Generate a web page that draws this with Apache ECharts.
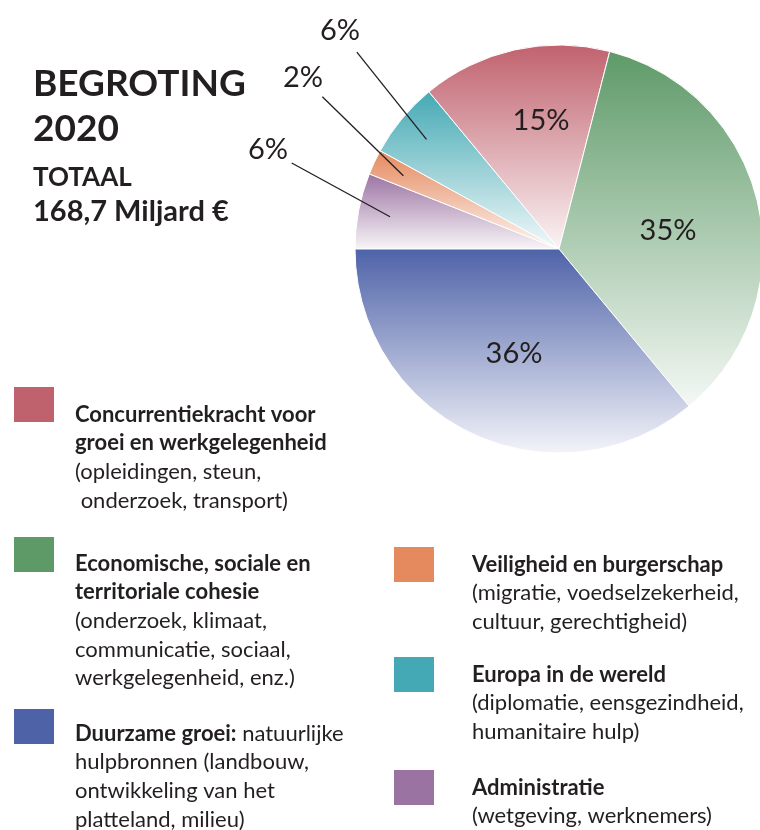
<!DOCTYPE html>
<html>
<head>
<meta charset="utf-8">
<title>Begroting 2020</title>
<script src="https://cdn.jsdelivr.net/npm/echarts@6/dist/echarts.min.js"></script>
<style>
  html, body { margin: 0; padding: 0; background: #fff; }
  #budget_pie_chart { width: 760px; height: 830px; }
</style>
</head>
<body>
<div id="budget_pie_chart"></div>
<script>
// categories, clockwise from 9 o'clock
const categories = ['Administratie', 'Veiligheid en burgerschap', 'Europa in de wereld',
  'Concurrentiekracht', 'Cohesie', 'Duurzame groei'];
const shares = [6, 2, 6, 15, 35, 36]; // %
const colors = ['#9B73A2', '#E5895E', '#44A9B4', '#C0626E', '#5E9A68', '#4E62A8'];

// legend texts, one entry per category
const legendLines = [
  ['{b|Administratie}', '{n|(wetgeving, werknemers)}'],
  ['{b|Veiligheid en burgerschap}', '{n|(migratie, voedselzekerheid,}', '{n|cultuur, gerechtigheid)}'],
  ['{b|Europa in de wereld}', '{n|(diplomatie, eensgezindheid,}', '{n|humanitaire hulp)}'],
  ['{b|Concurrentiekracht voor}', '{b|groei en werkgelegenheid}', '{n|(opleidingen, steun,}', '{n| onderzoek, transport)}'],
  ['{b|Economische, sociale en}', '{b|territoriale cohesie}', '{n|(onderzoek, klimaat,}', '{n|communicatie, sociaal,}', '{n|werkgelegenheid, enz.)}'],
  ['{b|Duurzame groei:}{n| natuurlijke}', '{n|hulpbronnen (landbouw,}', '{n|ontwikkeling van het}', '{n|platteland, milieu)}']
];

// layout (pixels): pie, label centres, legend icon placement
const CX = 559, CY = 249, R = 204, START = 180;
const labelPos = [[268, 150], [303, 78], [340, 31], [541, 121], [668, 231], [514, 354]];
const legendPos = [ // [iconLeft, iconTop, textIndent, firstLineOffset]
  [394, 770, 33, 0],
  [394, 547, 33, 0],
  [394, 657, 33, 0],
  [14, 387, 16, 10],
  [14, 537, 16, 9],
  [14, 709, 16, 7]
];

const FONT = 'Lato';
const TEXT = '#231f20';
const LH = 28.7;
const ICON_W = 40, ICON_H = 35;

const chart = echarts.init(document.getElementById('budget_pie_chart'));

function tint(hex, k) {
  const n = parseInt(hex.slice(1), 16);
  const r = n >> 16, g = (n >> 8) & 255, b = n & 255;
  const f = v => Math.round(v + (255 - v) * k);
  return 'rgb(' + f(r) + ',' + f(g) + ',' + f(b) + ')';
}

// point inside slice i, at its middle angle, `depth` px in from the rim
function slicePoint(i, depth) {
  const total = shares.reduce((s, v) => s + v, 0);
  let cum = 0;
  for (let j = 0; j < i; j++) cum += shares[j];
  const a = (START - 360 * (cum + shares[i] / 2) / total) * Math.PI / 180;
  return [CX + Math.cos(a) * (R - depth), CY - Math.sin(a) * (R - depth)];
}

const isSmall = i => shares[i] < 10;

// coloured slices, inside labels for the big ones
const pieData = categories.map((name, i) => ({
  name: name,
  value: shares[i],
  itemStyle: {
    color: new echarts.graphic.LinearGradient(0, 0, 0, 1, [
      { offset: 0, color: colors[i] },
      { offset: 1, color: tint(colors[i], 0.93) }
    ])
  },
  label: { show: !isSmall(i) }
}));

// transparent copy on top, only for outside labels + leader lines
const overlayData = categories.map((name, i) => ({
  name: name,
  value: shares[i],
  label: { show: isSmall(i) },
  labelLine: { show: isSmall(i) }
}));

const legends = categories.map((name, i) => {
  const [left, iconTop, indent, d] = legendPos[i];
  const n = legendLines[i].length;
  const iconMid = iconTop + ICON_H / 2;
  const padTop = 2 * d + (n - 1) * LH;
  const boxTop = iconMid - (n * LH + padTop) / 2;
  return {
    data: [{ name: name, itemStyle: { color: colors[i] } }],
    left: left,
    top: Math.min(boxTop, iconTop),
    padding: 0,
    orient: 'vertical',
    icon: 'rect',
    itemWidth: ICON_W,
    itemHeight: ICON_H,
    selectedMode: false,
    itemStyle: { borderWidth: 0 },
    formatter: () => legendLines[i].join('\n'),
    textStyle: {
      fontFamily: FONT,
      lineHeight: LH,
      padding: [padTop, 0, 0, indent],
      backgroundColor: 'rgba(255,255,255,0)',
      rich: {
        b: { fontFamily: FONT, fontSize: 22, fontWeight: 'bold', color: TEXT, lineHeight: LH },
        n: { fontFamily: FONT, fontSize: 22, color: TEXT, lineHeight: LH }
      }
    }
  };
});

const pctLabel = {
  formatter: '{c}%',
  fontFamily: FONT,
  fontSize: 29,
  color: TEXT
};

const placeLabel = function (p) {
  const i = p.dataIndex;
  const pos = labelPos[i];
  const out = { x: pos[0], y: pos[1], align: 'center', verticalAlign: 'middle' };
  if (isSmall(i)) {
    const inner = slicePoint(i, 32);
    const vx = inner[0] - pos[0], vy = inner[1] - pos[1];
    const vl = Math.hypot(vx, vy) || 1;
    out.labelLinePoints = [inner, [pos[0] + vx / vl * 27, pos[1] + vy / vl * 27]];
  }
  return out;
};

const option = {
  backgroundColor: '#fff',
  animation: false,
  title: [
    { text: 'BEGROTING', left: 33, top: 64, padding: 0,
      textStyle: { fontFamily: FONT, fontSize: 37, fontWeight: 'bold', color: TEXT, lineHeight: 40 } },
    { text: '2020', left: 33, top: 108, padding: 0,
      textStyle: { fontFamily: FONT, fontSize: 37, fontWeight: 'bold', color: TEXT, lineHeight: 42 } },
    { text: 'TOTAAL', left: 33, top: 163, padding: 0,
      textStyle: { fontFamily: FONT, fontSize: 26, fontWeight: 'bold', color: TEXT, lineHeight: 30 } },
    { text: '168,7 Miljard €', left: 33, top: 195, padding: 0,
      textStyle: { fontFamily: FONT, fontSize: 29, fontWeight: 'bold', color: TEXT, lineHeight: 34 } }
  ],
  legend: legends,
  series: [
    {
      name: 'Begroting 2020',
      type: 'pie',
      center: [CX, CY],
      radius: R,
      startAngle: START,
      clockwise: true,
      avoidLabelOverlap: false,
      itemStyle: { borderColor: '#fff', borderWidth: 1 },
      label: Object.assign({ position: 'inside' }, pctLabel),
      labelLine: { show: false },
      emphasis: { disabled: true },
      labelLayout: placeLabel,
      data: pieData
    },
    {
      name: 'labels',
      type: 'pie',
      z: 5,
      silent: true,
      center: [CX, CY],
      radius: R,
      startAngle: START,
      clockwise: true,
      avoidLabelOverlap: false,
      itemStyle: { color: 'rgba(0,0,0,0)', borderWidth: 0 },
      label: Object.assign({ position: 'outside' }, pctLabel),
      labelLine: {
        length: 15,
        length2: 0,
        lineStyle: { color: TEXT, width: 1.3 }
      },
      emphasis: { disabled: true },
      labelLayout: placeLabel,
      data: overlayData
    }
  ]
};

chart.setOption(option);
</script>
</body>
</html>
